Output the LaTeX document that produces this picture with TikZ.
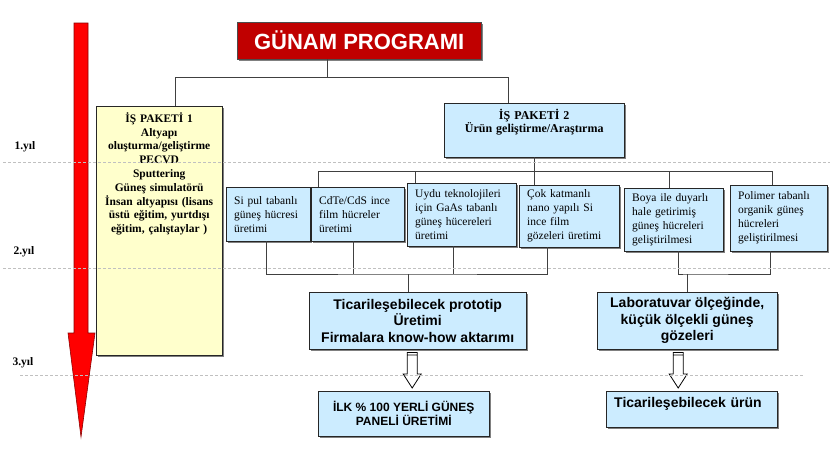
\documentclass[tikz,border=0pt]{standalone}
\usepackage{fontspec}
\setmainfont{Liberation Serif}
\setsansfont{Liberation Sans}
\usepackage{tikz}
\usetikzlibrary{calc,shadows}
\definecolor{gunamred}{HTML}{C00000}
\definecolor{skyfill}{HTML}{CCECFF}
\definecolor{paketyellow}{HTML}{FFFFCC}
\definecolor{linegray}{HTML}{404040}
\definecolor{dashgray}{HTML}{C0C0C0}

\begin{document}
\begin{tikzpicture}[x=1pt, y=-1pt,
  boxshadow/.style={drop shadow={shadow xshift=1.5pt, shadow yshift=-1.5pt, fill=black!50, opacity=1}},
  titlebox/.style={draw=black!70, fill=gunamred, text=white, anchor=north west, font=\sffamily\bfseries\fontsize{22}{26}\selectfont, boxshadow},
  paket/.style={draw=black!85, align=center, inner sep=4pt, anchor=north west, font=\bfseries\fontsize{11.5}{13.8}\selectfont, boxshadow},
  cell/.style={draw=black!85, fill=skyfill, align=left, inner xsep=8pt, inner ysep=3pt, anchor=north west, font=\fontsize{11.5}{14}\selectfont, boxshadow},
  box/.style={draw=black!85, fill=skyfill, align=center, inner sep=4pt, anchor=north west, font=\sffamily\bfseries\fontsize{14}{16.5}\selectfont, boxshadow},
  conn/.style={draw=linegray, line width=0.9pt},
  hollow/.style={draw=black, fill=white, line width=0.8pt, line join=miter},
  yearline/.style={draw=dashgray, line width=0.8pt, dash pattern=on 3pt off 2pt},
  yearlbl/.style={font=\bfseries\fontsize{11.5}{13.8}\selectfont, inner sep=0pt}
]
\useasboundingbox (0,0) rectangle (830,469);
\fill[red, draw=red!55!black, line width=0.6pt] (74,23) -- (74,333) -- (68,333) -- (81,437) -- (95,333) -- (88,333) -- (88,23) -- cycle;
\node[titlebox, minimum width=244pt, minimum height=37pt] (title) at (237,22) {GÜNAM PROGRAMI};
\node[paket, fill=paketyellow, text width=118pt, text height=12pt, text depth=229pt] (wp1) at (96,106) {İŞ PAKETİ 1\\Altyapı\\oluşturma/geliştirme\\PECVD\\Sputtering\\Güneş simulatörü\\İnsan altyapısı (lisans\\üstü eğitim, yurtdışı\\eğitim, çalıştaylar )};
\node[paket, fill=skyfill, text width=172pt, text height=12.3pt, text depth=33.7pt, font=\bfseries\fontsize{12}{13}\selectfont] (wp2) at (444,103) {İŞ PAKETİ 2\\Ürün geliştirme/Araştırma};
\node[cell, text width=68pt, minimum height=54pt] (sipul) at (226,187) {Si pul tabanlı\\güneş hücresi\\üretimi};
\node[cell, text width=77pt, minimum height=54pt] (cdte) at (311,187) {CdTe/CdS ince\\film hücreler\\üretimi};
\node[cell, text width=93pt, minimum height=63pt] (uydu) at (407,183) {Uydu teknolojileri\\için GaAs tabanlı\\güneş hücereleri\\üretimi};
\node[cell, text width=84pt, minimum height=62pt] (cok) at (519,185) {Çok katmanlı\\nano yapılı Si\\ince film\\gözeleri üretimi};
\node[cell, text width=83pt, minimum height=63pt] (boya) at (624,188) {Boya ile duyarlı\\hale getirimiş\\güneş hücreleri\\geliştirilmesi};
\node[cell, text width=81pt, minimum height=66pt] (poly) at (730,185) {Polimer tabanlı\\organik güneş\\hücreleri\\geliştirilmesi};
\node[box, minimum width=217pt, minimum height=57pt] (prot) at (309,292) {Ticarileşebilecek prototip\\Üretimi\\Firmalara know-how aktarımı};
\node[box, minimum width=180pt, minimum height=57pt] (lab) at (597,292) {Laboratuvar ölçeğinde,\\küçük ölçekli güneş\\gözeleri};
\node[box, minimum width=171pt, minimum height=45pt, font=\sffamily\bfseries\fontsize{12}{14}\selectfont] (ilk) at (318,391) {İLK \% 100 YERLİ GÜNEŞ\\PANELİ ÜRETİMİ};
\node[box, align=left, text width=155pt, inner xsep=8pt, text height=12.7pt, text depth=15.3pt] (urun) at (606,391) {Ticarileşebilecek ürün};
\draw[conn] ([xshift=-32pt]title.south) -- ++(0,18) -| ([xshift=16pt]wp1.north);
\draw[conn] ([xshift=-32pt]title.south) -- ++(0,18) -| ([xshift=-26pt]wp2.north);
\draw[conn] (wp2.south) -- ++(0,14) coordinate (fork);
\draw[conn] (318,0 |- cdte.north) |- (fork) -| (772,0 |- poly.north);
\draw[conn] (415,0 |- uydu.north) -- (415,0 |- fork);
\draw[conn] (fork) -- (fork |- cok.north);
\draw[conn] (669,0 |- boya.north) -- (669,0 |- fork);
\coordinate (join1) at (408,274);
\coordinate (join2) at (687,274);
\draw[conn] (266,0 |- sipul.south) |- (join1) -| (547,0 |- cok.south);
\draw[conn] (353,0 |- cdte.south) -- (353,0 |- join1);
\draw[conn] (453,0 |- uydu.south) -- (453,0 |- join1);
\draw[conn] (join1) -- (join1 |- prot.north);
\draw[conn] (678,0 |- boya.south) |- (join2) -| (770,0 |- poly.south);
\draw[conn] (join2) -- (join2 |- lab.north);
\draw[hollow] let \p1=([xshift=-5.5pt]prot.south), \p2=(ilk.north) in
  (\x1-5pt,\y1-3pt) -- (\x1-5pt,\y2+17pt) -- (\x1-9pt,\y2+17pt) -- (\x1,\y2+3pt) -- (\x1+9pt,\y2+17pt) -- (\x1+5pt,\y2+17pt) -- (\x1+5pt,\y1-3pt) -- cycle
  (\x1-5pt,\y1-5.5pt) -- (\x1+5pt,\y1-5.5pt);
\draw[hollow] let \p1=([xshift=-9pt]lab.south), \p2=(urun.north) in
  (\x1-5pt,\y1-3pt) -- (\x1-5pt,\y2+17pt) -- (\x1-9pt,\y2+17pt) -- (\x1,\y2+3pt) -- (\x1+9pt,\y2+17pt) -- (\x1+5pt,\y2+17pt) -- (\x1+5pt,\y1-3pt) -- cycle
  (\x1-5pt,\y1-5.5pt) -- (\x1+5pt,\y1-5.5pt);
\draw[yearline] (3,162) -- (830,162);
\draw[yearline] (3,268) -- (830,268);
\draw[yearline] (20,375) -- (803,375);
\node[yearlbl] (y1) at (25,147) {1.yıl};
\node[yearlbl] (y2) at (24,252) {2.yıl};
\node[yearlbl] (y3) at (23,363) {3.yıl};
\end{tikzpicture}
\end{document}
